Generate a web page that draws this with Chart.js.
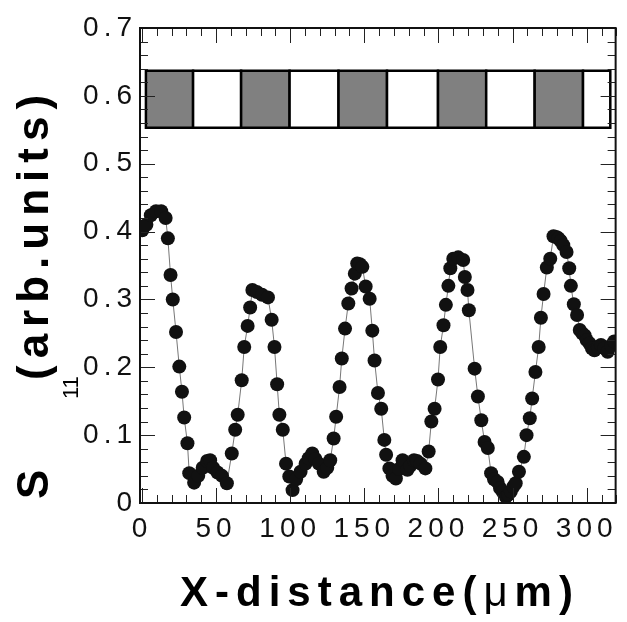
<!DOCTYPE html>
<html>
<head>
<meta charset="utf-8">
<script src="https://cdn.jsdelivr.net/npm/chart.js@4"></script>
<style>
  html, body { margin: 0; padding: 0; background: #fff; }
  canvas { display: block; }
</style>
</head>
<body>
<canvas id="chart" width="627" height="622"></canvas>
<script>
// x positions (um) and S11 values
const xDist = [
  0.2, 3, 6, 9.5, 13, 16, 17.5, 19.3, 20.8, 23, 25.2, 27, 28.5, 30.7, 31.9,
  35.2, 38, 41, 44, 46, 48, 51, 54, 57.3, 60.6, 62.9, 64.6, 67.3, 69, 71.3,
  73, 74.5, 77.5, 81, 85, 87.5, 89.4, 91.2, 92.7, 95, 97.2, 99.4, 101.6,
  104, 107, 110.4, 112.5, 114.9, 117, 119.3, 122.6, 125, 127, 129.3, 131,
  133.3, 134.8, 137, 139.2, 141.4, 143.6, 145.2, 147, 148.7, 150.9, 153.6,
  155.4, 156.9, 159.2, 161.4, 163.5, 164.7, 166.9, 169, 171.3, 173.5, 175.8,
  179.1, 181, 183.5, 185.5, 187.9, 191.2, 193.4, 195.2, 197.4, 199.7, 201.2,
  203.4, 205, 206.7, 208, 210, 213.3, 216.7, 217.8, 219.6, 220.5, 224.4,
  226.6, 228.9, 231.1, 233.3, 235.5, 237.5, 239.9, 241.5, 243.2, 245.5, 247,
  248.8, 250.5, 252.1, 254.3, 257.6, 259.4, 261.6, 263.2, 265.4, 267.6,
  269.1, 270.9, 273.1, 275.4, 277.6, 279.5, 281, 282.5, 284.2, 286.4, 288.2,
  289.3, 291.3, 293.5, 295.3, 297, 298.6, 300, 301.9, 303.5, 305.2, 307.5,
  309.6, 312, 314.1, 316.5, 318.5
];
const s11 = [
  0.402, 0.41, 0.424, 0.43, 0.43, 0.42, 0.39, 0.336, 0.30, 0.252, 0.201, 0.164, 0.126, 0.088, 0.044,
  0.03, 0.04, 0.052, 0.062, 0.063, 0.052, 0.045, 0.04, 0.029, 0.073, 0.108, 0.13, 0.181, 0.23, 0.261,
  0.288, 0.314, 0.311, 0.307, 0.303, 0.27, 0.23, 0.175, 0.13, 0.108, 0.058, 0.039, 0.019,
  0.035, 0.046, 0.058, 0.066, 0.073, 0.065, 0.058, 0.046, 0.052, 0.063, 0.095, 0.127,
  0.171, 0.213, 0.257, 0.294, 0.316, 0.338, 0.353, 0.352, 0.348, 0.319, 0.301,
  0.254, 0.21, 0.162, 0.139, 0.093, 0.071, 0.051, 0.04, 0.036, 0.05, 0.063,
  0.049, 0.055, 0.063, 0.062, 0.058, 0.051, 0.076, 0.12, 0.139, 0.182, 0.23,
  0.262, 0.292, 0.32, 0.346, 0.36, 0.362, 0.358, 0.333, 0.314, 0.284, 0.198,
  0.157, 0.122, 0.09, 0.081, 0.044, 0.035, 0.031, 0.022, 0.017, 0.009, 0.012,
  0.017, 0.024, 0.029, 0.046, 0.068, 0.1, 0.125, 0.154, 0.193, 0.23,
  0.273, 0.308, 0.347, 0.36, 0.393, 0.392, 0.39, 0.386, 0.38, 0.37, 0.346,
  0.32, 0.293, 0.277, 0.255, 0.25, 0.247, 0.24, 0.235, 0.228, 0.225, 0.23,
  0.233, 0.228, 0.223, 0.232, 0.238
];

const xTicks = [0, 50, 100, 150, 200, 250, 300];
const yTicks = [0, 0.1, 0.2, 0.3, 0.4, 0.5, 0.6, 0.7];

// the stripe pattern drawn across the top of the plot
const stripeEdges = [2.7, 34.5, 66.9, 99.6, 132.6, 165.3, 199.7, 232.2, 264.9, 297.5, 315.9];
const stripeBand = [0.553, 0.637];

const FONT = "'Liberation Sans', Arial, Helvetica, sans-serif";

const stripes = {
  id: 'stripes',
  beforeDatasetsDraw(chart) {
    const {ctx, scales: {x, y}} = chart;
    const top = y.getPixelForValue(stripeBand[1]);
    const bot = y.getPixelForValue(stripeBand[0]);
    ctx.save();
    for (let i = 0; i < stripeEdges.length - 1; i++) {
      const l = x.getPixelForValue(stripeEdges[i]);
      const r = x.getPixelForValue(stripeEdges[i + 1]);
      ctx.fillStyle = i % 2 === 0 ? '#808080' : '#ffffff';
      ctx.fillRect(l, top, r - l, bot - top);
      ctx.strokeStyle = '#000';
      ctx.lineWidth = 2.5;
      ctx.strokeRect(l, top, r - l, bot - top);
    }
    ctx.restore();
  }
};

const frame = {
  id: 'frame',
  afterDatasetsDraw(chart) {
    const {ctx, chartArea: a, scales: {x, y}} = chart;
    ctx.save();
    ctx.strokeStyle = '#222';
    ctx.lineWidth = 1;
    ctx.beginPath();
    for (let v = 0; v <= 320; v += 10) {
      const px = Math.round(x.getPixelForValue(v)) + 0.5;
      const len = v % 50 === 0 ? 15 : 8;
      ctx.moveTo(px, a.bottom); ctx.lineTo(px, a.bottom - len);
      ctx.moveTo(px, a.top); ctx.lineTo(px, a.top + len);
    }
    for (let k = 0; k <= 35; k++) {
      const py = Math.round(y.getPixelForValue(k * 0.02)) + 0.5;
      const len = k % 5 === 0 ? 15 : 8;
      ctx.moveTo(a.left, py); ctx.lineTo(a.left + len, py);
      ctx.moveTo(a.right, py); ctx.lineTo(a.right - len, py);
    }
    ctx.stroke();
    ctx.lineWidth = 2;
    ctx.strokeStyle = '#111';
    ctx.strokeRect(a.left, a.top, a.right - a.left, a.bottom - a.top);
    ctx.restore();
  }
};

function spaced(ctx, text, x, y, font, spacing) {
  ctx.font = font;
  ctx.letterSpacing = spacing + 'px';
  ctx.fillText(text, x, y);
  return x + ctx.measureText(text).width;
}

const titles = {
  id: 'titles',
  beforeUpdate(chart) { chart.ctx.letterSpacing = '5px'; },
  beforeDraw(chart) { chart.ctx.letterSpacing = '5px'; },
  afterDraw(chart) {
    const ctx = chart.ctx;
    ctx.save();
    ctx.fillStyle = '#000';
    ctx.textBaseline = 'alphabetic';
    ctx.textAlign = 'left';
    // x title
    let cx = spaced(ctx, 'X-distance(', 180, 606, 'bold 42px ' + FONT, 7);
    cx = spaced(ctx, 'μ', cx, 606, '42px ' + FONT, 7);
    spaced(ctx, 'm)', cx, 606, 'bold 42px ' + FONT, 7);
    // y title, rotated
    ctx.translate(48, 499);
    ctx.rotate(-Math.PI / 2);
    spaced(ctx, 'S', 0, 0, 'bold 44px ' + FONT, 0);
    spaced(ctx, '11', 100, 30, '22px ' + FONT, 0);
    spaced(ctx, '(arb.units)', 119, 0, 'bold 44px ' + FONT, 7);
    ctx.restore();
  }
};

new Chart(document.getElementById('chart'), {
  type: 'scatter',
  data: {
    datasets: [{
      data: xDist.map((v, i) => ({x: v, y: s11[i]})),
      showLine: true,
      borderColor: '#777',
      borderWidth: 1,
      pointRadius: 7,
      pointBackgroundColor: '#111',
      pointBorderWidth: 0
    }]
  },
  options: {
    responsive: false,
    animation: false,
    layout: {padding: {top: 28, right: 4, left: 0, bottom: 0}},
    plugins: {legend: {display: false}, tooltip: {enabled: false}},
    scales: {
      x: {
        type: 'linear',
        min: -1.3,
        max: 319.5,
        afterBuildTicks: s => { s.ticks = xTicks.map(v => ({value: v})); },
        afterFit: s => { s.height = 119; },
        grid: {display: false, drawTicks: false},
        border: {display: false},
        ticks: {
          padding: 9,
          autoSkip: false,
          maxRotation: 0,
          color: '#111',
          font: {family: FONT, size: 28}
        }
      },
      y: {
        min: 0,
        max: 0.7,
        afterBuildTicks: s => { s.ticks = yTicks.map(v => ({value: v})); },
        afterFit: s => { s.width = 140; },
        grid: {display: false, drawTicks: false},
        border: {display: false},
        ticks: {
          padding: 3,
          color: '#111',
          font: {family: FONT, size: 28},
          callback: v => v === 0 ? '0' : v.toFixed(1)
        }
      }
    }
  },
  plugins: [stripes, frame, titles]
});
</script>
</body>
</html>
